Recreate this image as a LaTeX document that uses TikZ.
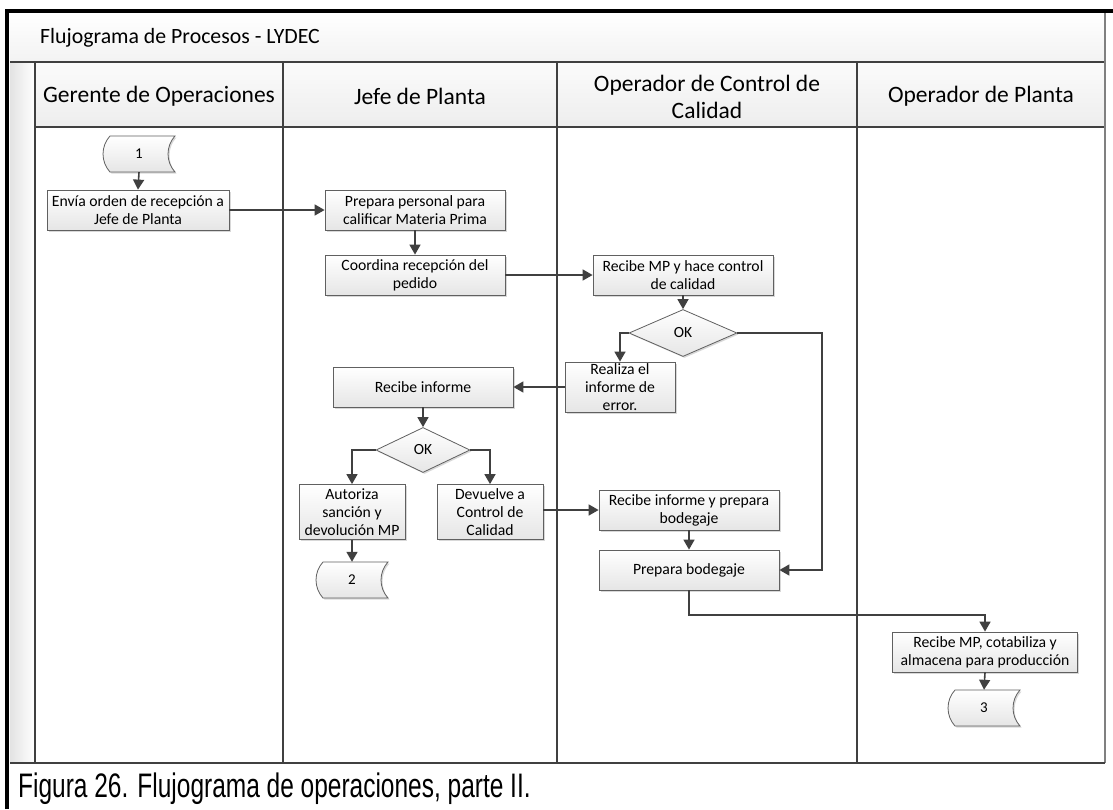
\documentclass[tikz,border=0pt]{standalone}
\usepackage{fontspec}
\usepackage{graphicx}
\setmainfont{Carlito}
\newfontfamily\arialf{Liberation Sans}
\usetikzlibrary{shapes.geometric,shadows,arrows.meta,calc}
\definecolor{ln}{HTML}{404040}
\definecolor{bd}{HTML}{606060}
\tikzset{
  proc/.style={draw=bd, line width=0.8pt, top color=white, bottom color=gray!20,
    drop shadow={shadow xshift=1.5pt, shadow yshift=-1.5pt, opacity=0.3, fill=gray},
    align=center, font=\fontsize{15.7}{18}\selectfont, inner sep=0pt},
  dec/.style={shape=diamond, draw=bd, line width=0.8pt, top color=white, bottom color=gray!20,
    drop shadow={shadow xshift=1.5pt, shadow yshift=-1.5pt, opacity=0.3, fill=gray},
    font=\fontsize{15.5}{18}\selectfont, inner sep=0pt},
  sdpath/.style={draw=bd, line width=0.8pt, top color=white, bottom color=gray!20,
    drop shadow={shadow xshift=1.5pt, shadow yshift=-1.5pt, opacity=0.3, fill=gray}},
  sdlabel/.style={minimum width=72pt, minimum height=36pt, inner sep=0pt, font=\fontsize{15}{17}\selectfont},
  arr/.style={draw=ln, line width=1.6pt, -{Triangle[length=10pt,width=11pt]}},
  lane/.style={draw=ln, line width=1.3pt},
  hdr/.style={font=\fontsize{23.5}{27}\selectfont, align=center}
}
\newcommand\stdata[4]{%
  \path[sdpath] (#2-29,#3-18) -- (#2+36,#3-18)
    .. controls (#2+26.7,#3-8) and (#2+26.7,#3+8) .. (#2+36,#3+18)
    -- (#2-29,#3+18)
    .. controls (#2-38.3,#3+8) and (#2-38.3,#3-8) .. (#2-29,#3-18) -- cycle;
  \node[sdlabel] (#1) at (#2,#3) {#4};}
\begin{document}
\begin{tikzpicture}[x=1pt,y=-1pt]
\useasboundingbox (0,0) rectangle (1113,809);
\fill[white] (0,0) rectangle (1113,809);
% title band
\fill[top color=white, bottom color=gray!10] (10,13) rectangle (1105,62);
% header cells
\fill[top color=gray!3, bottom color=gray!14] (35,62) rectangle (1105,127);
% margin strip
\fill[left color=gray!22, right color=white] (10,62) rectangle (35,763);
% lines
\draw[lane] (10,62) -- (1105,62);
\draw[lane] (35,127) -- (1105,127);
\draw[lane] (35,62) -- (35,763);
\draw[lane] (283,62) -- (283,763);
\draw[lane] (557,62) -- (557,763);
\draw[lane] (857,62) -- (857,763);
\draw[draw=gray, line width=1.8pt] (1105,13) -- (1105,763);
\draw[lane] (10,763) -- (1105,763);
% black page border
\draw[black, line width=3.5pt] (7,809) -- (7,11) -- (1113,11);
% titles
\node[anchor=west, font=\fontsize{21.8}{25}\selectfont, inner sep=0pt] (title) at (40,38) {Flujograma de Procesos - LYDEC};
\node[hdr] (h1) at (159,96) {Gerente de Operaciones};
\node[hdr] (h2) at (420,96) {Jefe de Planta};
\node[hdr] (h3) at (707,97) {Operador de Control de\\Calidad};
\node[hdr] (h4) at (981,96) {Operador de Planta};
% nodes
\stdata{c1}{139}{154}{1}
\node[proc, minimum width=182pt, minimum height=40pt] (envia) at (138,210) {Envía orden de recepción a\\Jefe de Planta};
\node[proc, minimum width=180pt, minimum height=40pt] (prep) at (415,210) {Prepara personal para\\calificar Materia Prima};
\node[proc, minimum width=180pt, minimum height=40pt] (coord) at (415,275) {Coordina recepción del\\pedido};
\node[proc, minimum width=180pt, minimum height=40pt] (recmp) at (683,275) {Recibe MP y hace control\\de calidad};
\node[dec, minimum width=108pt, minimum height=47pt] (ok1) at (683,333) {OK};
\node[proc, minimum width=110pt, minimum height=50pt] (realiza) at (620,387) {Realiza el\\informe de\\error.};
\node[proc, minimum width=180pt, minimum height=40pt] (recinf) at (423,387) {Recibe informe};
\node[dec, minimum width=94pt, minimum height=45pt] (ok2) at (423,450) {OK};
\node[proc, minimum width=106pt, minimum height=55pt] (aut) at (352,512) {Autoriza\\sanción y\\devolución MP};
\node[proc, minimum width=106pt, minimum height=55pt] (dev) at (490,512) {Devuelve a\\Control de\\Calidad};
\node[proc, minimum width=180pt, minimum height=40pt] (recinfp) at (689,510) {Recibe informe y prepara\\bodegaje};
\node[proc, minimum width=180pt, minimum height=40pt] (prepbod) at (689,570) {Prepara bodegaje};
\node[proc, minimum width=185pt, minimum height=40pt] (recmpo) at (985,652) {Recibe MP, cotabiliza y\\almacena para producción};
\stdata{c2}{352}{580}{2}
\stdata{c3}{984}{708}{3}
\coordinate (r1) at (822,333);
\coordinate (d1) at (689,615);
% connectors
\draw[arr] (c1.south) -- (envia.north);
\draw[arr] (envia.east) -- (prep.west);
\draw[arr] (prep.south) -- (coord.north);
\draw[arr] (coord.east) -- (recmp.west);
\draw[arr] (recmp.south) -- (ok1.north);
\draw[arr] (ok1.west) -| (realiza.north);
\draw[arr] (ok1.east) -- (r1) |- (prepbod.east);
\draw[arr] (realiza.west) -- (recinf.east);
\draw[arr] (recinf.south) -- (ok2.north);
\draw[arr] (ok2.west) -| (aut.north);
\draw[arr] (ok2.east) -| (dev.north);
\draw[arr] (dev.east |- recinfp.west) -- (recinfp.west);
\draw[arr] (recinfp.south) -- (prepbod.north);
\draw[arr] (prepbod.south) -- (d1) -| (recmpo.north);
\draw[arr] (recmpo.south) -- (c3.north);
\draw[arr] (aut.south) -- (c2.north);
% caption
\node[anchor=base west, inner sep=0pt] (cap) at (18,797) {\arialf\fontsize{34}{37}\selectfont\scalebox{0.72}[1]{Figura 26. Flujograma de operaciones, parte II.}};
\end{tikzpicture}
\end{document}
